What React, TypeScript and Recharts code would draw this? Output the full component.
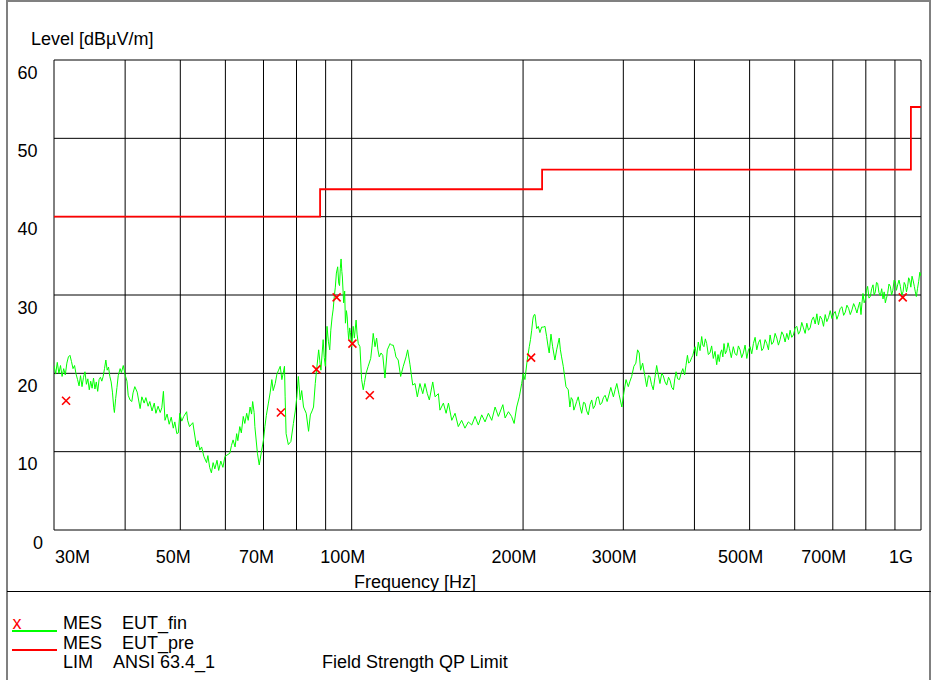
import React from 'react'
import { ComposedChart, Line, Scatter, XAxis, YAxis, CartesianGrid } from 'recharts'

// pre-scan trace, [MHz, dBµV/m]
const SCAN_30_40: [number, number][] = [
  [30.0, 21.0], [30.2, 19.9], [30.4, 21.4], [30.6, 20.0], [30.8, 21.0], [31.0, 19.6], [31.2, 20.6], [31.4, 19.8],
  [31.6, 21.3], [31.8, 22.1], [32.0, 22.3], [32.2, 21.5], [32.4, 20.6], [32.6, 21.0], [32.8, 19.9], [33.0, 19.2],
  [33.2, 18.4], [33.4, 19.7], [33.6, 18.3], [33.8, 19.5], [34.0, 20.2], [34.2, 18.6], [34.4, 19.3], [34.6, 17.9],
  [34.8, 19.0], [35.0, 18.1], [35.2, 19.4], [35.4, 18.0], [35.6, 18.9], [35.8, 17.7], [36.0, 19.2], [36.2, 19.5],
  [36.4, 19.0], [36.6, 19.6], [36.8, 20.6], [37.0, 21.7], [37.2, 20.4], [37.4, 20.8], [37.6, 19.6], [37.8, 18.9],
  [38.0, 17.6], [38.2, 15.6], [38.3, 15.0], [38.5, 16.8], [38.7, 18.2], [38.9, 19.7], [39.2, 20.6], [39.4, 20.1],
  [39.7, 21.0], [40.0, 19.8],
]

const SCAN_40_60: [number, number][] = [
  [40.3, 19.0], [40.5, 17.2], [40.8, 16.6], [41.1, 16.4], [41.3, 17.5], [41.6, 18.3], [42.0, 17.6], [42.5, 15.5],
  [42.8, 17.0], [43.2, 16.2], [43.5, 16.9], [43.9, 15.8], [44.2, 16.4], [44.6, 15.2], [45.0, 16.2], [45.3, 14.9],
  [45.7, 15.8], [46.1, 15.0], [46.4, 15.6], [46.7, 17.7], [47.0, 14.0], [47.4, 14.8], [47.8, 13.5], [48.2, 14.4],
  [48.6, 13.0], [48.9, 13.8], [49.3, 12.3], [49.6, 12.4], [49.9, 14.9], [50.3, 13.9], [50.7, 14.5], [51.3, 15.1],
  [51.5, 14.0], [51.9, 13.2], [52.6, 13.7], [53.4, 10.6], [53.7, 11.4], [54.1, 10.2], [54.5, 10.6], [55.0, 9.4],
  [55.6, 8.6], [55.9, 9.5], [56.3, 8.0], [56.7, 7.3], [57.1, 8.6], [57.5, 7.8], [58.0, 8.9], [58.4, 7.6],
  [58.9, 8.8], [59.4, 8.0], [59.9, 9.4],
]

const SCAN_60_100: [number, number][] = [
  [61.1, 9.8], [61.5, 10.8], [61.9, 11.5], [62.4, 10.6], [62.8, 12.3], [63.1, 11.4], [63.6, 13.2], [64.0, 12.4],
  [64.5, 14.5], [64.9, 13.6], [65.4, 14.9], [65.8, 14.0], [66.3, 15.7], [66.7, 14.8], [67.0, 16.4], [67.4, 15.0],
  [67.6, 13.2], [68.3, 9.8], [68.8, 8.3], [69.5, 10.2], [70.0, 11.5], [70.4, 13.2], [70.8, 14.6], [71.4, 16.2],
  [71.9, 17.5], [72.4, 19.2], [72.8, 17.8], [73.4, 18.7], [73.9, 19.9], [74.4, 20.4], [74.9, 20.9], [75.4, 19.2],
  [75.8, 20.0], [76.2, 20.9], [76.4, 17.0], [76.7, 12.3], [77.4, 10.9], [78.2, 11.3], [79.0, 13.6], [79.6, 15.2],
  [80.1, 17.0], [80.6, 19.6], [81.2, 16.6], [81.7, 17.8], [82.3, 15.7], [83.2, 14.9], [84.0, 12.6], [84.6, 14.7],
  [85.2, 15.2], [85.7, 15.7], [86.3, 18.7], [86.9, 20.9], [87.5, 23.0], [87.9, 21.6], [88.3, 20.4], [89.1, 24.3],
  [89.5, 22.0], [89.9, 20.9], [90.5, 26.0], [91.0, 24.1], [91.5, 23.0], [91.9, 25.5], [92.4, 27.2], [92.8, 28.2],
  [93.2, 29.8], [93.6, 31.0], [94.0, 32.8], [94.5, 33.6], [94.9, 31.5], [95.2, 31.2], [95.5, 33.4], [95.8, 34.6],
  [96.1, 33.0], [96.3, 32.3], [96.8, 29.0], [97.2, 30.5], [97.5, 26.4], [97.9, 28.0], [98.2, 27.2], [98.5, 25.5],
  [98.8, 24.3], [99.2, 25.8], [99.5, 25.2], [99.8, 24.0], [100.0, 23.4],
]

const SCAN_100_200: [number, number][] = [
  [100.6, 26.0], [101.1, 24.5], [101.8, 26.8], [102.2, 25.0], [102.7, 23.8], [103.4, 23.4], [104.1, 19.2], [104.8, 17.9],
  [105.3, 18.8], [106.0, 20.0], [106.9, 20.9], [108.0, 21.9], [108.6, 23.5], [109.1, 25.1], [109.9, 23.4], [110.6, 24.5],
  [111.2, 23.0], [111.8, 22.1], [112.6, 22.6], [113.4, 22.3], [114.4, 19.4], [115.5, 23.0], [116.8, 23.8], [117.5, 23.6],
  [118.3, 23.6], [119.1, 22.8], [119.6, 22.1], [120.7, 21.7], [121.9, 19.6], [123.2, 20.9], [124.6, 22.1], [125.4, 23.0],
  [126.6, 21.1], [128.0, 18.5], [129.2, 18.7], [130.4, 17.0], [131.8, 18.7], [133.3, 17.4], [134.5, 18.7], [135.8, 17.4],
  [136.9, 16.6], [138.8, 18.9], [140.1, 17.0], [142.0, 17.4], [142.9, 15.3], [144.9, 16.2], [146.5, 14.9], [147.9, 16.2],
  [149.9, 14.0], [151.9, 14.9], [153.9, 13.2], [156.0, 14.0], [158.1, 13.0], [160.3, 13.8], [162.5, 13.4], [164.7, 14.5],
  [166.9, 13.4], [169.2, 14.7], [171.5, 13.8], [173.8, 14.9], [176.2, 14.0], [178.6, 15.7], [181.0, 14.5], [184.3, 16.0],
  [186.0, 14.3], [188.5, 15.1], [190.9, 14.5], [192.9, 13.6], [194.9, 15.7], [197.0, 17.0], [198.9, 18.7], [200.2, 20.0],
]

const SCAN_200_400: [number, number][] = [
  [201.5, 19.2], [203.4, 21.7], [205.1, 23.4], [206.1, 24.3], [207.1, 25.5], [208.0, 26.8], [208.4, 27.2], [209.3, 27.5],
  [209.9, 27.5], [211.3, 25.7], [212.7, 26.0], [214.1, 25.2], [215.6, 25.9], [217.0, 25.9], [218.5, 26.0], [220.0, 24.7],
  [221.2, 23.5], [222.3, 22.6], [223.9, 25.0], [225.4, 23.4], [227.5, 21.7], [229.1, 23.0], [231.5, 24.5], [232.6, 23.0],
  [233.7, 22.1], [235.3, 20.9], [237.9, 18.3], [240.1, 17.9], [241.7, 15.7], [243.0, 16.9], [244.4, 16.6], [245.6, 15.3],
  [246.7, 15.7], [248.4, 16.4], [250.0, 17.0], [251.8, 15.8], [253.5, 14.9], [255.4, 16.3], [256.9, 16.2], [258.7, 15.2],
  [260.4, 14.7], [262.2, 16.0], [264.0, 16.6], [265.7, 15.5], [267.6, 15.9], [269.4, 16.9], [271.2, 17.0], [273.1, 16.0],
  [275.0, 16.2], [276.8, 16.9], [278.7, 17.2], [281.0, 16.4], [282.7, 17.1], [285.2, 18.2], [288.2, 17.0], [290.2, 17.9],
  [292.2, 18.7], [294.9, 17.3], [298.2, 15.7], [300.8, 17.6], [303.3, 19.2], [306.1, 18.3], [308.2, 19.0], [310.3, 19.6],
  [313.1, 20.9], [315.6, 21.3], [317.8, 23.0], [319.9, 22.6], [321.7, 20.4], [324.4, 21.3], [327.4, 19.6], [329.7, 18.3],
  [332.1, 19.7], [334.1, 19.6], [336.2, 18.6], [338.6, 17.9], [341.0, 19.5], [343.3, 21.0], [345.6, 19.8], [347.9, 18.7],
  [350.4, 20.0], [352.6, 19.7], [355.1, 18.9], [357.5, 18.5], [360.2, 19.5], [362.4, 19.1], [364.9, 18.2], [367.4, 17.9],
  [369.4, 19.3], [371.4, 20.2], [373.7, 19.3], [376.4, 19.2], [379.0, 20.0], [381.6, 20.6], [384.4, 19.8], [386.5, 21.0],
  [388.8, 22.3], [390.7, 21.3], [393.1, 21.5], [395.5, 22.0], [397.4, 22.3], [399.5, 23.0],
]

const SCAN_400_1000: [number, number][] = [
  [401.0, 23.4], [403.6, 22.2], [406.3, 24.0], [409.1, 22.9], [411.9, 24.7], [413.8, 23.6], [415.7, 23.4], [418.0, 24.4],
  [420.3, 23.8], [423.1, 22.4], [425.9, 22.6], [428.8, 23.5], [431.7, 21.9], [434.7, 22.8], [437.7, 21.1], [440.0, 22.4],
  [442.3, 21.5], [444.4, 22.6], [446.6, 23.0], [448.7, 22.1], [450.8, 23.8], [453.3, 22.5], [455.8, 22.9], [458.2, 23.9],
  [460.6, 23.2], [464.3, 22.0], [468.1, 23.4], [471.3, 22.5], [474.6, 22.3], [477.8, 23.5], [481.0, 23.0], [484.2, 22.0],
  [487.5, 22.6], [490.9, 23.6], [494.3, 21.9], [497.6, 23.0], [500.9, 23.4], [504.3, 22.5], [507.7, 23.8], [511.2, 24.6],
  [514.7, 23.0], [518.2, 23.9], [521.7, 24.3], [525.2, 22.9], [528.7, 23.2], [532.3, 24.3], [536.0, 23.8], [539.6, 23.0],
  [543.2, 24.9], [546.8, 23.7], [550.5, 24.0], [554.3, 25.1], [558.1, 24.5], [561.8, 23.6], [565.6, 24.3], [569.4, 25.3],
  [573.2, 24.9], [577.2, 24.0], [581.2, 25.1], [585.1, 24.3], [589.0, 25.5], [592.9, 24.6], [596.9, 24.9], [601.0, 25.8],
  [605.2, 26.0], [609.2, 25.0], [613.3, 25.4], [617.4, 26.5], [621.6, 25.8], [625.9, 25.1], [630.2, 26.4], [634.4, 25.5],
  [638.7, 25.8], [643.0, 26.8], [647.3, 27.2], [651.8, 26.3], [656.3, 27.6], [658.4, 26.8], [660.6, 26.2], [665.1, 27.3],
  [669.7, 26.9], [674.2, 26.0], [678.8, 27.5], [683.3, 26.6], [687.9, 27.1], [692.7, 28.0], [697.5, 27.0], [702.2, 27.6],
  [706.9, 27.9], [711.6, 26.9], [716.4, 27.5], [721.4, 28.3], [726.4, 28.5], [731.3, 27.4], [736.2, 27.8], [741.1, 28.7],
  [746.1, 28.3], [751.2, 27.5], [756.4, 28.1], [761.5, 28.9], [766.6, 28.4], [771.7, 27.7], [776.9, 28.6], [780.7, 29.1],
  [784.5, 27.5], [787.7, 29.0], [790.9, 30.2], [794.6, 29.0], [798.3, 29.4], [802.0, 30.6], [805.8, 31.1], [810.2, 29.6],
  [814.6, 29.8], [819.1, 30.8], [823.6, 31.3], [827.4, 30.0], [831.3, 30.4], [835.2, 31.6], [839.1, 31.5], [843.7, 30.3],
  [848.3, 29.9], [853.0, 30.8], [857.6, 29.5], [861.6, 30.4], [865.7, 29.0], [869.7, 29.6], [873.8, 30.2], [878.6, 31.4],
  [883.4, 31.1], [887.9, 30.0], [892.4, 30.6], [896.9, 31.9], [901.4, 31.7], [905.6, 30.6], [909.9, 31.3], [914.9, 31.9],
  [919.9, 31.1], [925.0, 30.0], [930.0, 30.4], [934.3, 31.6], [938.7, 31.3], [943.0, 30.4], [947.4, 31.1], [951.3, 32.2],
  [955.1, 31.9], [959.7, 31.0], [964.4, 32.4], [968.9, 31.8], [973.4, 31.1], [977.3, 30.4], [981.3, 29.8], [985.9, 30.8],
  [990.5, 31.7], [995.2, 32.9], [1000.0, 32.4],
]

// final QP measurements (red x)
const FINAL_POINTS: [number, number][] = [
  [31.5, 16.5], [75.1, 15.0], [86.7, 20.5], [94.1, 29.7], [100.3, 23.8], [107.6, 17.2], [206.6, 22.0], [928.8, 29.7],
]

// ANSI 63.4 field strength QP limit, stepped
const LIMIT: [number, number][] = [
  [30, 40], [88, 43.5], [216, 46], [960, 54], [1000, 54],
]

const X_GRID = [30, 40, 50, 60, 70, 80, 90, 100, 200, 300, 400, 500, 600, 700, 800, 900, 1000]
const X_LABELS: Record<number, string> = {
  30: '30M', 50: '50M', 70: '70M', 100: '100M', 200: '200M', 300: '300M', 500: '500M', 700: '700M', 1000: '1G',
}
const Y_TICKS = [0, 10, 20, 30, 40, 50, 60]

const FONT = '"Liberation Sans", Arial, Helvetica, sans-serif'

const toRows = (pts: [number, number][]) => pts.map(([f, v]) => ({ f, v }))
const scanData = toRows([...SCAN_30_40, ...SCAN_40_60, ...SCAN_60_100, ...SCAN_100_200, ...SCAN_200_400, ...SCAN_400_1000])
const finalData = toRows(FINAL_POINTS)
const limitData = toRows(LIMIT)

// x axis sits at the plot bottom (y=530); labels hang below it
const renderXTick = (props: any) => {
  const { x, y, payload } = props
  const label = X_LABELS[payload.value]
  if (!label) return <g />
  let anchor: 'start' | 'middle' | 'end' = 'middle'
  let dx = label.length > 3 ? -9 : -7
  if (payload.value === 30) { anchor = 'start'; dx = 1 }
  if (payload.value === 1000) { anchor = 'end'; dx = -8 }
  return (
    <text x={x + dx} y={y + 33} textAnchor={anchor} fontSize={18} fill="#000" fontFamily={FONT}>{label}</text>
  )
}

// y labels sit just under their grid line, as in the source plot
const renderYTick = (props: any) => {
  const { x, y, payload } = props
  const zero = payload.value === 0
  return (
    <text x={zero ? x - 21 : x - 16.5} y={y + 18.5} textAnchor={zero ? 'start' : 'end'} fontSize={18} fill="#000" fontFamily={FONT}>
      {payload.value}
    </text>
  )
}

const Cross = ({ cx, cy }: any) => (
  <path d={`M${cx - 4},${cy - 4}L${cx + 4},${cy + 4}M${cx - 4},${cy + 4}L${cx + 4},${cy - 4}`} stroke="#ff0000" strokeWidth={1.6} fill="none" />
)

export default function App() {
  return (
    <div style={{ position: 'absolute', left: 0, top: 0, width: 931, height: 680, background: '#fff', fontFamily: FONT, overflow: 'hidden' }}>
      <ComposedChart width={931} height={680} margin={{ top: 60, right: 10, bottom: 120, left: 0 }}>
        <CartesianGrid stroke="#000" strokeWidth={1} />
        <XAxis
          dataKey="f"
          type="number"
          scale="log"
          domain={[30, 1000]}
          ticks={X_GRID}
          interval={0}
          height={30}
          axisLine={false}
          tickLine={false}
          tickSize={0}
          tickMargin={0}
          tick={renderXTick}
          allowDataOverflow
        />
        <YAxis
          type="number"
          domain={[0, 60]}
          ticks={Y_TICKS}
          interval={0}
          width={54}
          axisLine={false}
          tickLine={false}
          tickSize={0}
          tickMargin={0}
          tick={renderYTick}
        />
        <Line data={limitData} dataKey="v" type="stepAfter" stroke="#ff0000" strokeWidth={1.8} dot={false} isAnimationActive={false} />
        <Line data={scanData} dataKey="v" type="linear" stroke="#00ff00" strokeWidth={1} dot={false} isAnimationActive={false} />
        <Scatter data={finalData} dataKey="v" shape={<Cross />} isAnimationActive={false} />
      </ComposedChart>

      <svg width={931} height={680} style={{ position: 'absolute', left: 0, top: 0, pointerEvents: 'none' }} fontFamily={FONT} fontSize={18}>
        {/* outer frame */}
        <line x1={7} y1={0} x2={7} y2={680} stroke="#808080" strokeWidth={2} />
        <line x1={7} y1={1} x2={931} y2={1} stroke="#808080" strokeWidth={2} />
        <line x1={930} y1={0} x2={930} y2={680} stroke="#808080" strokeWidth={2} />
        <line x1={7} y1={591.5} x2={931} y2={591.5} stroke="#000" strokeWidth={1} />

        <text x={31} y={45} fill="#000">Level [dBµV/m]</text>
        <text x={354} y={588} fill="#000">Frequency [Hz]</text>

        {/* legend */}
        <text x={12.5} y={629} fill="#ff0000">x</text>
        <line x1={12} y1={631} x2={57} y2={631} stroke="#00ff00" strokeWidth={2} />
        <text x={63} y={629} fill="#000">MES</text>
        <text x={122} y={629} fill="#000">EUT_fin</text>

        <line x1={12} y1={650} x2={57} y2={650} stroke="#ff0000" strokeWidth={2} />
        <text x={63} y={649} fill="#000">MES</text>
        <text x={122} y={649} fill="#000">EUT_pre</text>

        <text x={63} y={668} fill="#000">LIM</text>
        <text x={113} y={668} fill="#000">ANSI 63.4_1</text>
        <text x={322} y={668} fill="#000">Field Strength QP Limit</text>
      </svg>
    </div>
  )
}
